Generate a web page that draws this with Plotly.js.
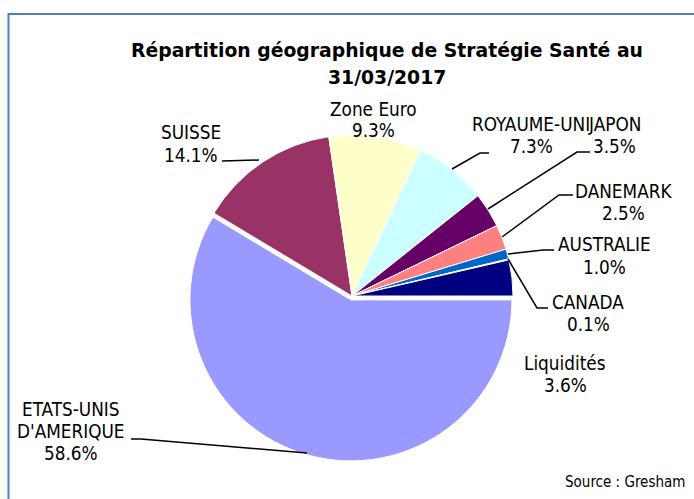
<!DOCTYPE html>
<html><head><meta charset="utf-8">
<script src="https://cdn.plot.ly/plotly-3.0.1.min.js"></script>
<style>html,body{margin:0;padding:0;background:#fff}#chart{width:694px;height:499px}</style>
</head><body><div id="chart"></div>
<script>
// ---- data ----
const titleLines = ['Répartition géographique de Stratégie Santé au', '31/03/2017'];
const categories = ["ETATS-UNIS<br>D'AMERIQUE", 'SUISSE', 'Zone Euro', 'ROYAUME-UNI', 'JAPON', 'DANEMARK', 'AUSTRALIE', 'CANADA', 'Liquidités'];
const shares = [58.6, 14.1, 9.3, 7.3, 3.5, 2.5, 1.0, 0.1, 3.6];
const sliceColors = ['#9999FF', '#993366', '#FFFFCC', '#CCFFFF', '#660066', '#FF8080', '#0066CC', '#CCCCFF', '#000080'];
const pulls = [0.025, 0, 0, 0, 0, 0, 0, 0, 0];
const sourceNote = 'Source : Gresham';

// ---- layout helpers (pixel -> paper) ----
const W = 694, H = 499;
const px = x => x / W, py = y => 1 - y / H;

// label anchors: center x, first-line center y (pixels)
const labelPos = [[71,409],[191,133],[373,109],[531,124],[614,124],[623,191],[604,245],[588,302],[565,363]];
const lineGap = 22;
const leaders = [
  [[131,439],[141,439],[307,453]],
  [[222,161],[259,160]],
  null,
  [[489,153],[480,153],[452,169]],
  [[590,152],[577,152],[488,209]],
  [[573,195],[559,195],[502,237]],
  [[554,250],[543,250],[508,254]],
  [[548,308],[537,308],[508,259]],
  null
];

const labelFont = {family: 'DejaVu Sans Condensed, DejaVu Sans, sans-serif', size: 18.8, color: '#000'};
const annotations = [];
categories.forEach((c, i) => {
  const lines = c.split('<br>').concat([shares[i].toFixed(1) + '%']);
  lines.forEach((t, k) => {
    annotations.push({xref: 'paper', yref: 'paper', x: px(labelPos[i][0]), y: py(labelPos[i][1] + k * lineGap),
      text: t, showarrow: false, xanchor: 'center', yanchor: 'middle', font: labelFont});
  });
});
titleLines.forEach((t, k) => {
  annotations.push({xref: 'paper', yref: 'paper', x: px(387), y: py(51 + k * 26), text: t, showarrow: false,
    xanchor: 'center', yanchor: 'middle', font: {family: 'DejaVu Sans, sans-serif', size: 18.8, weight: 'bold', color: '#000'}});
});
annotations.push({xref: 'paper', yref: 'paper', x: px(687), y: py(482), text: sourceNote, showarrow: false,
  xanchor: 'right', yanchor: 'middle', font: {family: 'DejaVu Sans Condensed, DejaVu Sans, sans-serif', size: 15, color: '#000'}});

const shapes = [{type: 'rect', xref: 'paper', yref: 'paper', x0: px(8.5), x1: 1.05, y0: -0.05, y1: py(14),
  line: {color: '#4F81BD', width: 2}, fillcolor: 'rgba(0,0,0,0)', layer: 'below'}];
leaders.forEach(pts => {
  if (!pts) return;
  const d = pts.map((p, k) => (k ? 'L' : 'M') + px(p[0]) + ',' + py(p[1])).join(' ');
  shapes.push({type: 'path', xref: 'paper', yref: 'paper', path: d, line: {color: '#000', width: 1.5}});
});

const cx = 352, cy = 296, r = 161;
const half = r * (1 + Math.max(...pulls));
const trace = {
  type: 'pie', labels: categories, values: shares, sort: false, direction: 'clockwise', rotation: 90,
  pull: pulls, marker: {colors: sliceColors, line: {color: '#fff', width: 1}},
  textinfo: 'none', hoverinfo: 'label+percent',
  domain: {x: [(cx - half) / W, (cx + half) / W], y: [(H - cy - half) / H, (H - cy + half) / H]}
};
const layout = {width: W, height: H, margin: {l: 0, r: 0, t: 0, b: 0}, showlegend: false,
  paper_bgcolor: '#fff', annotations: annotations, shapes: shapes};
Plotly.newPlot('chart', [trace], layout, {displayModeBar: false, staticPlot: true});
</script></body></html>
